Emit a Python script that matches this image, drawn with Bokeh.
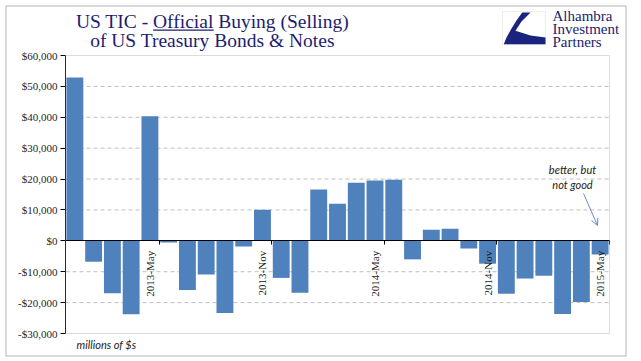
import math
from bokeh.plotting import figure
from bokeh.models import (Range1d, FixedTicker, Label, BoxAnnotation, PolyAnnotation,
                          Arrow, OpenHead, ColumnDataSource)
from bokeh.embed import file_html
from bokeh.resources import INLINE

# ---------------- data ----------------
months = ["2013-Jan", "2013-Feb", "2013-Mar", "2013-Apr", "2013-May", "2013-Jun",
          "2013-Jul", "2013-Aug", "2013-Sep", "2013-Oct", "2013-Nov", "2013-Dec",
          "2014-Jan", "2014-Feb", "2014-Mar", "2014-Apr", "2014-May", "2014-Jun",
          "2014-Jul", "2014-Aug", "2014-Sep", "2014-Oct", "2014-Nov", "2014-Dec",
          "2015-Jan", "2015-Feb", "2015-Mar", "2015-Apr", "2015-May"]
values = [52900, -6800, -17000, -23800, 40300, -500,
          -15900, -10900, -23400, -1800, 10100, -12000,
          -16800, 16600, 12000, 18800, 19500, 19800,
          -6000, 3600, 3900, -2500, -7400, -17100,
          -12200, -11300, -23700, -19800, -4400]
x_tick_labels = ["2013-May", "2013-Nov", "2014-May", "2014-Nov", "2015-May"]
y_ticks = [-30000, -20000, -10000, 0, 10000, 20000, 30000, 40000, 50000, 60000]
y_tick_labels = ["-$30,000", "-$20,000", "-$10,000", "$0", "$10,000", "$20,000",
                 "$30,000", "$40,000", "$50,000", "$60,000"]
title_line1 = "US TIC - Official Buying (Selling)"
title_line2 = "of US Treasury Bonds & Notes"
units_note = "millions of $s"
note_lines = ["better, but", "not good"]
logo_lines = ["Alhambra", "Investment", "Partners"]

NAVY = "#1d1d6e"
BAR = "#4F81BD"

# ---------------- layout (pixels) ----------------
W, H = 627, 357
PL, PR, PT, PB = 65, 609, 55, 333          # plot-area edges on the canvas
n = len(months)
ymin, ymax = y_ticks[0], y_ticks[-1]
px_x = (PR - PL) / n
px_y = (PB - PT) / (ymax - ymin)
x0 = -0.5 - PL / px_x
x1 = -0.5 + (W - PL) / px_x
y0 = ymin - (H - PB) / px_y
y1 = ymax + PT / px_y

def sy(py):
    return H - py

xs = list(range(n))
src = ColumnDataSource(dict(x=xs, top=values, month=months))

p = figure(width=W, height=H, output_backend="svg", toolbar_location=None,
           title=None, x_range=Range1d(x0, x1), y_range=Range1d(y0, y1),
           min_border=0)
p.background_fill_color = "white"
p.border_fill_color = "white"
p.outline_line_color = None
p.xgrid.visible = False
p.ygrid.visible = False

# dashed gridlines inside the plot area
grid_vals = [t for t in y_ticks if t not in (0, ymin, ymax)]
p.segment(x0=[-0.5] * len(grid_vals), x1=[n - 0.5] * len(grid_vals),
          y0=grid_vals, y1=grid_vals, line_color="#BFBFBF", line_dash="4 3",
          line_width=1)

p.vbar(x="x", top="top", width=0.9, bottom=0, source=src, fill_color=BAR,
       line_color=None)

# plot-area border
p.add_layout(BoxAnnotation(left=-0.5, right=n - 0.5, bottom=ymin, top=ymax,
                           fill_color=None, fill_alpha=0, line_color="#8C8C8C",
                           line_width=1))

# y axis
p.yaxis.fixed_location = -0.5
p.yaxis.bounds = (ymin, ymax)
p.yaxis.ticker = FixedTicker(ticks=y_ticks)
p.yaxis.major_label_overrides = {t: l for t, l in zip(y_ticks, y_tick_labels)}
p.yaxis.major_label_text_font = "Liberation Serif"
p.yaxis.major_label_text_font_size = "11px"
p.yaxis.major_label_text_color = "#262626"
p.yaxis.major_tick_in = 0
p.yaxis.major_tick_out = 5
p.yaxis.major_label_standoff = 3
p.yaxis.minor_tick_line_color = None
p.yaxis.axis_line_color = "black"

# x axis at zero
label_idx = [months.index(m) for m in x_tick_labels]
p.xaxis.fixed_location = 0
p.xaxis.bounds = (-0.5, n - 0.5)
p.xaxis.ticker = FixedTicker(ticks=label_idx, minor_ticks=[i + 0.5 for i in label_idx])
p.xaxis.major_label_overrides = {i: l for i, l in zip(label_idx, x_tick_labels)}
p.xaxis.major_label_orientation = math.pi / 2
p.xaxis.major_label_text_font = "Liberation Serif"
p.xaxis.major_label_text_font_size = "11px"
p.xaxis.major_label_text_color = "#1a1a1a"
p.xaxis.major_tick_line_color = None
p.xaxis.major_tick_in = 0
p.xaxis.major_tick_out = 0
p.xaxis.major_label_standoff = 6
p.xaxis.minor_tick_in = 0
p.xaxis.minor_tick_out = 4
p.xaxis.minor_tick_line_color = "black"
p.xaxis.axis_line_color = "black"

def sbox(l, r, b, t, **kw):
    return BoxAnnotation(left=l, right=r, bottom=b, top=t,
                         left_units="screen", right_units="screen",
                         top_units="screen", bottom_units="screen", **kw)

def label(txt, px, py, size, font, color, align="center", style="normal"):
    return Label(x=px, y=sy(py), x_units="screen", y_units="screen", text=txt,
                 text_align=align, text_baseline="middle", text_font=font,
                 text_font_size=size, text_font_style=style, text_color=color)

# outer border of the whole chart
p.add_layout(sbox(5.5, 625.5, sy(355.5), sy(5.5), fill_color=None, fill_alpha=0,
                  line_color="black", line_width=1))

# title
p.add_layout(label(title_line1, 212, 20.5, "19.5px", "Liberation Serif", NAVY))
p.add_layout(label(title_line2, 212, 39.5, "19.5px", "Liberation Serif", NAVY))
p.add_layout(sbox(152.6, 213.2, sy(30.2), sy(29.0), fill_color=NAVY, fill_alpha=1,
                  line_color=None))

# logo
p.add_layout(sbox(502, 545, sy(44), sy(11), fill_color="white", fill_alpha=1,
                  line_color="#C8C8C8", line_width=1))
logo_px = [521.7, 530, 521, 515, 530, 545, 545, 503.3, 506, 511, 516]
logo_py = [12, 12, 21, 30.3, 35, 37, 43.7, 43.7, 37, 28, 20]
p.add_layout(PolyAnnotation(xs=logo_px, ys=[sy(v) for v in logo_py],
                            xs_units="screen", ys_units="screen",
                            fill_color="#1a237e", fill_alpha=1, line_color=None))
for txt, py in zip(logo_lines, [15, 28, 41]):
    p.add_layout(label(txt, 552, py, "15px", "Liberation Serif", NAVY, align="left"))

# notes
p.add_layout(label(units_note, 76, 343.5, "11px", "Lato", "#222222", align="left",
                   style="italic"))
for txt, py in zip(note_lines, [168.5, 183.5]):
    p.add_layout(label(txt, 572, py, "11px", "Lato", "#222222", style="italic"))
p.add_layout(Arrow(x_start=583, y_start=sy(193), x_end=597, y_end=sy(225),
                   start_units="screen", end_units="screen",
                   line_color="#6A8CC8", line_width=1,
                   end=OpenHead(size=7, line_color="#6A8CC8", line_width=1)))

open("out.html", "w").write(file_html(p, INLINE))
